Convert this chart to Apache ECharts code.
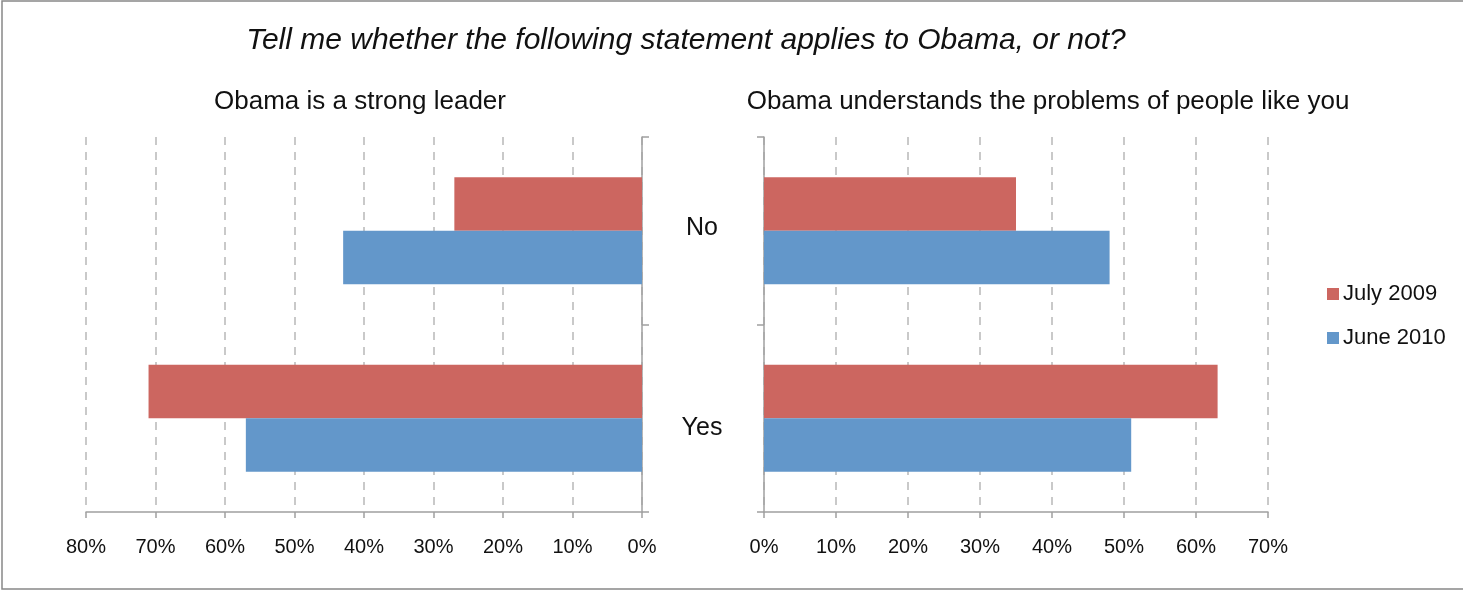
<!DOCTYPE html>
<html>
<head>
<meta charset="utf-8">
<script src="https://cdn.jsdelivr.net/npm/echarts@6/dist/echarts.min.js"></script>
<style>
html,body{margin:0;padding:0;background:#fff;}
#chart{width:1463px;height:592px;}
</style>
</head>
<body>
<div id="chart"></div>
<script>
var categories = ['No', 'Yes'];
var seriesNames = ['July 2009', 'June 2010'];
var leaderJuly2009 = [27, 71];
var leaderJune2010 = [43, 57];
var understandsJuly2009 = [35, 63];
var understandsJune2010 = [48, 51];
var leftTicksMax = 80;
var rightTicksMax = 70;

var RED = '#CC6660';
var BLUE = '#6397CA';
var AXIS = '#a0a0a0';
var FONT = 'Liberation Sans, Arial, Helvetica, sans-serif';

var chart = echarts.init(document.getElementById('chart'));

function xAxisCfg(grid, max, inverse) {
  return {
    type: 'value', gridIndex: grid, min: 0, max: max, interval: 10, inverse: inverse,
    axisLine: {show: true, lineStyle: {color: AXIS, width: 1.5}},
    axisTick: {show: true, length: 6, lineStyle: {color: AXIS, width: 1.5}},
    axisLabel: {formatter: '{value}%', color: '#111', fontSize: 20, fontFamily: FONT, margin: 25},
    splitLine: {show: true, lineStyle: {color: '#b8b8b8', width: 1.5, type: [8, 7]}}
  };
}
function yAxisCfg(grid, pos, showLabel) {
  return {
    type: 'category', gridIndex: grid, data: categories, inverse: true, position: pos,
    axisLine: {show: true, lineStyle: {color: AXIS, width: 1.5}},
    axisTick: {show: true, length: 7, lineStyle: {color: AXIS, width: 1.5}},
    axisLabel: {
      show: showLabel, color: '#111', fontSize: 25, fontFamily: FONT, margin: 60, align: 'center',
      formatter: function (v, i) { return i === 0 ? '{a|' + v + '}' : '{b|' + v + '}'; },
      rich: {
        a: {fontSize: 25, fontFamily: FONT, color: '#111', padding: [0, 0, 6, 0]},
        b: {fontSize: 25, fontFamily: FONT, color: '#111', padding: [20, 0, 0, 0]}
      }
    },
    splitLine: {show: false}
  };
}
function bar(name, data, xi, yi, color) {
  return {
    name: name, type: 'bar', xAxisIndex: xi, yAxisIndex: yi, data: data,
    itemStyle: {color: color}, barGap: '0%', barCategoryGap: '43%', silent: true
  };
}

chart.setOption({
  animation: false,
  backgroundColor: '#fff',
  title: [
    {text: 'Tell me whether the following statement applies to Obama, or not?', left: 681, top: 21, textAlign: 'center',
     textStyle: {fontSize: 30, fontStyle: 'italic', fontWeight: 'normal', color: '#111', fontFamily: FONT}},
    {text: 'Obama is a strong leader', left: 355, top: 84, textAlign: 'center',
     textStyle: {fontSize: 26, fontWeight: 'normal', color: '#111', fontFamily: FONT}},
    {text: 'Obama understands the problems of people like you', left: 1043, top: 84, textAlign: 'center',
     textStyle: {fontSize: 26, fontWeight: 'normal', color: '#111', fontFamily: FONT}}
  ],
  legend: {
    orient: 'vertical', left: 1322, top: 278, itemWidth: 12, itemHeight: 12, itemGap: 22,
    icon: 'rect', data: seriesNames,
    textStyle: {fontSize: 22, color: '#111', fontFamily: FONT, padding: [0, 0, 0, -1]}
  },
  grid: [
    {left: 86, width: 556, top: 137, height: 375, containLabel: false},
    {left: 764, width: 504, top: 137, height: 375, containLabel: false}
  ],
  xAxis: [xAxisCfg(0, leftTicksMax, true), xAxisCfg(1, rightTicksMax, false)],
  yAxis: [yAxisCfg(0, 'right', true), yAxisCfg(1, 'left', false)],
  series: [
    bar(seriesNames[0], leaderJuly2009, 0, 0, RED),
    bar(seriesNames[1], leaderJune2010, 0, 0, BLUE),
    bar(seriesNames[0], understandsJuly2009, 1, 1, RED),
    bar(seriesNames[1], understandsJune2010, 1, 1, BLUE)
  ],
  graphic: [
    {type: 'rect', shape: {x: 2, y: 1, width: 1480, height: 588}, silent: true,
     style: {fill: 'none', stroke: '#888', lineWidth: 1.5}}
  ]
});
</script>
</body>
</html>
